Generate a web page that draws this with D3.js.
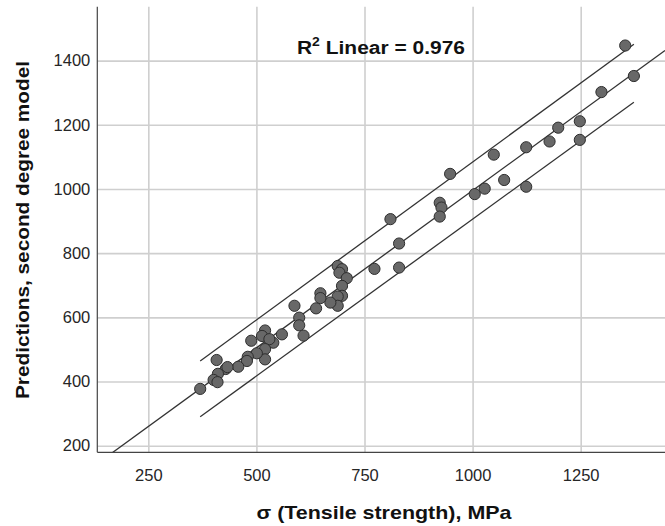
<!DOCTYPE html>
<html>
<head>
<meta charset="utf-8">
<script src="https://cdn.jsdelivr.net/npm/d3@7"></script>
<style>
  html, body { margin: 0; padding: 0; background: #fff; }
  svg { display: block; }
</style>
</head>
<body>
<svg id="chart" width="665" height="526"></svg>
<script>
// ---- data ----
const tensile = [1353, 1373, 1298, 1248, 1198, 1178, 1248, 1124, 1073, 1124,
                 1049, 948, 1028, 1005, 924, 928, 924, 810, 830, 830,
                 773, 688, 698, 692, 709, 698, 698, 688, 688, 671,
                 648, 648, 638, 588, 599, 599, 609, 559, 520, 513,
                 539, 530, 488, 520, 520, 501, 480, 478, 458, 429,
                 433, 408, 411, 401, 410, 370];
const predicted = [1447, 1352, 1302, 1211, 1191, 1148, 1153, 1130, 1028, 1007,
                   1107, 1047, 1001, 984, 957, 942, 914, 906, 830, 755,
                   751, 760, 750, 739, 722, 698, 667, 665, 636, 646,
                   675, 660, 628, 636, 599, 575, 543, 547, 559, 542,
                   521, 532, 527, 501, 469, 488, 477, 464, 446, 439,
                   445, 467, 424, 405, 398, 377];
const xTicks = [250, 500, 750, 1000, 1250];
const yTicks = [200, 400, 600, 800, 1000, 1200, 1400];
const fitCoef = [14.6, 0.9807];           // intercept, slope
const bandX = [370, 1373];                // prediction-interval extent
const bandUpper = [464, 1451];
const bandLower = [290, 1270.5];
const rSquared = "0.976";

// ---- layout ----
const svg = d3.select("#chart");
const pLeft = 97.3, pRight = 666, pTop = 6.7, pBottom = 452.3;
const x = d3.scaleLinear().domain([132, 1445]).range([pLeft, 665]);
const y = d3.scaleLinear().domain([179.4, 1568]).range([pBottom, pTop]);
const FONT = "Liberation Sans, Arial, sans-serif";

// clip
svg.append("defs").append("clipPath").attr("id", "plotclip")
  .append("rect").attr("x", pLeft).attr("y", pTop)
  .attr("width", pRight - pLeft).attr("height", pBottom - pTop);

// gridlines
const gx = svg.append("g").attr("transform", `translate(0,${pBottom})`)
  .call(d3.axisBottom(x).tickValues(xTicks).tickSize(-(pBottom - pTop)).tickFormat(""));
const gy = svg.append("g").attr("transform", `translate(${pLeft},0)`)
  .call(d3.axisLeft(y).tickValues(yTicks).tickSize(-(pRight - pLeft)).tickFormat(""));
[gx, gy].forEach(g => {
  g.select(".domain").remove();
  g.selectAll(".tick line").attr("stroke", "#cfcfcf").attr("stroke-width", 1.6);
});

// tick labels
const fmt = d3.format("d");
const lx = svg.append("g").attr("transform", `translate(0,${pBottom})`)
  .call(d3.axisBottom(x).tickValues(xTicks).tickFormat(fmt).tickSize(0).tickPadding(17));
const ly = svg.append("g").attr("transform", `translate(${pLeft},0)`)
  .call(d3.axisLeft(y).tickValues(yTicks).tickFormat(fmt).tickSize(0).tickPadding(7));
[lx, ly].forEach(g => {
  g.select(".domain").remove();
  g.selectAll("text").attr("font-family", FONT)
    .attr("font-size", 16.5).attr("fill", "#262626");
});

// axis lines
svg.append("line").attr("x1", pLeft).attr("x2", pLeft).attr("y1", pTop).attr("y2", pBottom)
  .attr("stroke", "#444").attr("stroke-width", 1.2);
svg.append("line").attr("x1", pLeft).attr("x2", pRight).attr("y1", pBottom).attr("y2", pBottom)
  .attr("stroke", "#444").attr("stroke-width", 1.2);

const plot = svg.append("g").attr("clip-path", "url(#plotclip)");

// fit line
const fx = x.domain();
const line = d3.line().x(d => x(d[0])).y(d => y(d[1]));
plot.append("path")
  .attr("d", line(fx.map(v => [v, fitCoef[0] + fitCoef[1] * v])))
  .attr("fill", "none").attr("stroke", "#333").attr("stroke-width", 1.3);

// prediction interval lines
[bandUpper, bandLower].forEach(b => {
  plot.append("path")
    .attr("d", line(bandX.map((v, i) => [v, b[i]])))
    .attr("fill", "none").attr("stroke", "#333").attr("stroke-width", 1.3);
});

// points
plot.selectAll("circle.pt").data(tensile.map((v, i) => [v, predicted[i]]))
  .join("circle").attr("class", "pt")
  .attr("cx", d => x(d[0])).attr("cy", d => y(d[1])).attr("r", 5.6)
  .attr("fill", "#686868").attr("stroke", "#2e2e2e").attr("stroke-width", 1);

// R² annotation
const ann = svg.append("text").attr("x", 381).attr("y", 54)
  .attr("text-anchor", "middle")
  .attr("font-family", FONT)
  .attr("font-weight", "bold").attr("font-size", 18).attr("fill", "#111")
  .attr("textLength", 168).attr("lengthAdjust", "spacingAndGlyphs");
ann.append("tspan").text("R");
ann.append("tspan").attr("dy", -8).attr("font-size", 12).text("2");
ann.append("tspan").attr("dy", 8).text(" Linear = " + rSquared);

// axis titles
svg.append("text").attr("x", 384).attr("y", 519).attr("text-anchor", "middle")
  .attr("font-family", FONT)
  .attr("font-weight", "bold").attr("font-size", 19).attr("fill", "#111")
  .attr("textLength", 255).attr("lengthAdjust", "spacingAndGlyphs")
  .text("σ (Tensile strength), MPa");
svg.append("text").attr("transform", "translate(29,230) rotate(-90)")
  .attr("text-anchor", "middle")
  .attr("font-family", FONT)
  .attr("font-weight", "bold").attr("font-size", 18.5).attr("fill", "#111")
  .attr("textLength", 338).attr("lengthAdjust", "spacingAndGlyphs")
  .text("Predictions, second degree model");
</script>
</body>
</html>
